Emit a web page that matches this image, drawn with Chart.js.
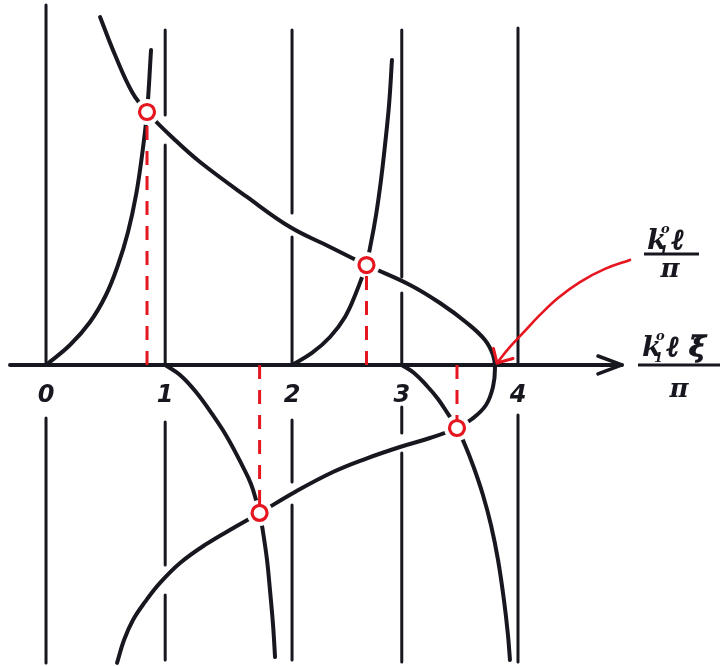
<!DOCTYPE html>
<html>
<head>
<meta charset="utf-8">
<script src="https://cdn.jsdelivr.net/npm/chart.js@4/dist/chart.umd.min.js"></script>
<style>
html, body { margin: 0; padding: 0; background: #fff; }
#sketch { display: block; }
</style>
</head>
<body>
<canvas id="sketch" width="720" height="666"></canvas>
<script>
const ink = '#17171f';
const red = '#e5161f';

// asymptotes along the axis and their labels
const tickPos = [0, 1.01, 2.085, 3.015, 4];
const tickLabels = ['0', '1', '2', '3', '4'];

// pieces of each vertical line, [top, bottom] in y units
const lineSegments = [
  [[3.05, 0], [-0.449, -2.525]],
  [[2.839, 2.119], [1.864, 0], [-0.483, -1.695], [-1.949, -2.5]],
  [[2.839, 1.288], [1.085, 0], [-0.466, -0.992], [-1.186, -2.5]],
  [[2.839, 0.746], [0.61, 0], [-0.356, -0.576], [-0.746, -2.517]],
  [[2.856, 0], [-0.424, -2.517]]
];

// the bent curve that folds back at the axis
const bendX = [0.458, 0.585, 0.729, 0.856, 1.093, 1.305, 1.703, 2.068, 2.407, 2.716, 3.085, 3.339, 3.568, 3.72, 3.788, 3.805,
               3.788, 3.729, 3.61, 3.483, 3.254, 3.0, 2.703, 2.432, 2.11, 1.81, 1.602, 1.347, 1.136, 0.966, 0.839, 0.737, 0.661, 0.602];
const bendY = [2.949, 2.627, 2.314, 2.144, 1.907, 1.72, 1.424, 1.169, 1.0, 0.847, 0.678, 0.525, 0.356, 0.212, 0.085, -0.025,
               -0.186, -0.339, -0.458, -0.534, -0.619, -0.695, -0.797, -0.907, -1.076, -1.254, -1.373, -1.525, -1.678, -1.847, -2.008, -2.161, -2.331, -2.525];

// tangent branches
const tan0X = [0, 0.203, 0.373, 0.508, 0.61, 0.695, 0.763, 0.814, 0.856, 0.89];
const tan0Y = [0, 0.169, 0.364, 0.593, 0.847, 1.127, 1.441, 1.78, 2.144, 2.669];
const tan1X = [1.01, 1.136, 1.271, 1.407, 1.534, 1.669, 1.737, 1.78, 1.814, 1.839, 1.873, 1.898, 1.924, 1.941];
const tan1Y = [0, -0.085, -0.229, -0.415, -0.61, -0.864, -1.008, -1.144, -1.271, -1.415, -1.653, -1.907, -2.203, -2.475];
const tan2X = [2.085, 2.254, 2.407, 2.534, 2.627, 2.712, 2.754, 2.797, 2.839, 2.873, 2.907, 2.932];
const tan2Y = [0, 0.102, 0.237, 0.407, 0.61, 0.847, 1.034, 1.271, 1.568, 1.864, 2.203, 2.585];
const tan3X = [3.015, 3.119, 3.229, 3.322, 3.407, 3.483, 3.551, 3.627, 3.703, 3.771, 3.831, 3.881, 3.915, 3.932];
const tan3Y = [0, -0.068, -0.178, -0.288, -0.415, -0.534, -0.678, -0.873, -1.102, -1.356, -1.653, -1.992, -2.288, -2.5];

// intersections (roots)
const rootX = [0.856, 2.716, 3.483, 1.81];
const rootY = [2.144, 0.847, -0.534, -1.254];

// pointer to the turning point
const pointerX = [4.949, 4.737, 4.525, 4.339, 4.186, 4.051, 3.932, 3.822];
const pointerY = [0.89, 0.814, 0.703, 0.568, 0.424, 0.28, 0.153, 0.017];
const pointerHeadX = [3.792, 3.822, 3.958];
const pointerHeadY = [0.14, 0.017, 0.055];

// axis with arrow
const axisX = [-0.305, 4.881];
const arrowX = [4.678, 4.881, 4.678];
const arrowY = [0.076, 0, -0.076];

const pts = (xs, ys) => xs.map((x, i) => ({ x: x, y: ys[i] }));

function stroke(data, color, width, extra) {
  return Object.assign({
    data: data,
    showLine: true,
    borderColor: color,
    borderWidth: width,
    borderCapStyle: 'round',
    borderJoinStyle: 'round',
    pointRadius: 0,
    fill: false,
    tension: 0
  }, extra || {});
}

const datasets = [];

// red circles on top, white halos under them leave a gap in the ink
datasets.push({
  data: pts(rootX, rootY), showLine: false, pointStyle: 'circle',
  pointRadius: 7.5, pointBorderWidth: 3.2, pointBorderColor: red, pointBackgroundColor: '#fff'
});

rootX.forEach((x, i) => {
  datasets.push(stroke([{ x: x, y: 0 }, { x: x, y: rootY[i] }], red, 3, { borderDash: [14, 11], borderCapStyle: 'butt' }));
});

datasets.push({
  data: pts(rootX, rootY), showLine: false, pointStyle: 'circle',
  pointRadius: 13, pointBorderWidth: 0, pointBackgroundColor: '#fff'
});

datasets.push(stroke(pts(pointerX, pointerY), red, 2.6, { tension: 0.4 }));
datasets.push(stroke(pts(pointerHeadX, pointerHeadY), red, 3));

datasets.push(stroke(pts(bendX, bendY), ink, 4, { tension: 0.4 }));
datasets.push(stroke(pts(tan0X, tan0Y), ink, 4, { tension: 0.4 }));
datasets.push(stroke(pts(tan1X, tan1Y), ink, 4, { tension: 0.4 }));
datasets.push(stroke(pts(tan2X, tan2Y), ink, 4, { tension: 0.4 }));
datasets.push(stroke(pts(tan3X, tan3Y), ink, 4, { tension: 0.4 }));

datasets.push(stroke(axisX.map(x => ({ x: x, y: 0 })), ink, 4));
datasets.push(stroke(pts(arrowX, arrowY), ink, 3.5));

lineSegments.forEach((segs, i) => {
  segs.forEach(s => {
    datasets.push(stroke([{ x: tickPos[i], y: s[0] }, { x: tickPos[i], y: s[1] }], ink, 3));
  });
});

// the two fraction labels at the right
const fractionLabels = {
  id: 'fractionLabels',
  afterDraw(chart) {
    const ctx = chart.ctx;
    ctx.save();
    ctx.fillStyle = ink;
    ctx.strokeStyle = ink;
    ctx.textBaseline = 'alphabetic';

    function glyph(ch, x, base) {
      ctx.font = 'bold italic 28px "DejaVu Serif"';
      ctx.lineWidth = 1.3;
      ctx.fillText(ch, x, base);
      ctx.strokeText(ch, x, base);
    }
    function numerator(x, base, tail) {
      ctx.font = 'bold italic 28px "DejaVu Serif"';
      ctx.fillText('k', x, base);
      ctx.font = 'bold italic 13px "DejaVu Serif"';
      ctx.fillText('1', x + 12, base + 6);
      ctx.fillText('o', x + 14, base - 16);
      tail.forEach((ch, i) => glyph(ch, x + 25 + i * 22, base));
    }
    function bar(x0, x1, y) {
      ctx.lineWidth = 3;
      ctx.beginPath();
      ctx.moveTo(x0, y);
      ctx.lineTo(x1, y);
      ctx.stroke();
    }
    function pi(cx, base) {
      ctx.font = 'bold italic 26px "DejaVu Serif"';
      ctx.textAlign = 'center';
      ctx.fillText('π', cx, base);
      ctx.textAlign = 'left';
    }

    numerator(647, 249, ['ℓ']);
    bar(644, 699, 254);
    pi(670, 277);

    numerator(642, 356, ['ℓ', 'ξ']);
    bar(638, 720, 365);
    pi(679, 397);
    ctx.restore();
  }
};

new Chart(document.getElementById('sketch'), {
  type: 'scatter',
  data: { datasets: datasets },
  options: {
    responsive: false,
    animation: false,
    events: [],
    layout: { padding: 0, autoPadding: false },
    plugins: { legend: { display: false }, tooltip: { enabled: false } },
    scales: {
      x: {
        type: 'linear',
        min: -0.39,
        max: 5.712,
        position: { y: 0 },
        grid: { display: false },
        border: { display: false },
        afterBuildTicks: axis => { axis.ticks = tickPos.map(v => ({ value: v })); },
        ticks: {
          autoSkip: false,
          maxRotation: 0,
          padding: 8,
          color: ink,
          font: { family: '"DejaVu Sans"', size: 24, style: 'italic', weight: 'bold' },
          callback: (value, index) => tickLabels[index]
        }
      },
      y: { type: 'linear', min: -2.551, max: 3.093, display: false }
    }
  },
  plugins: [fractionLabels]
});
</script>
</body>
</html>
